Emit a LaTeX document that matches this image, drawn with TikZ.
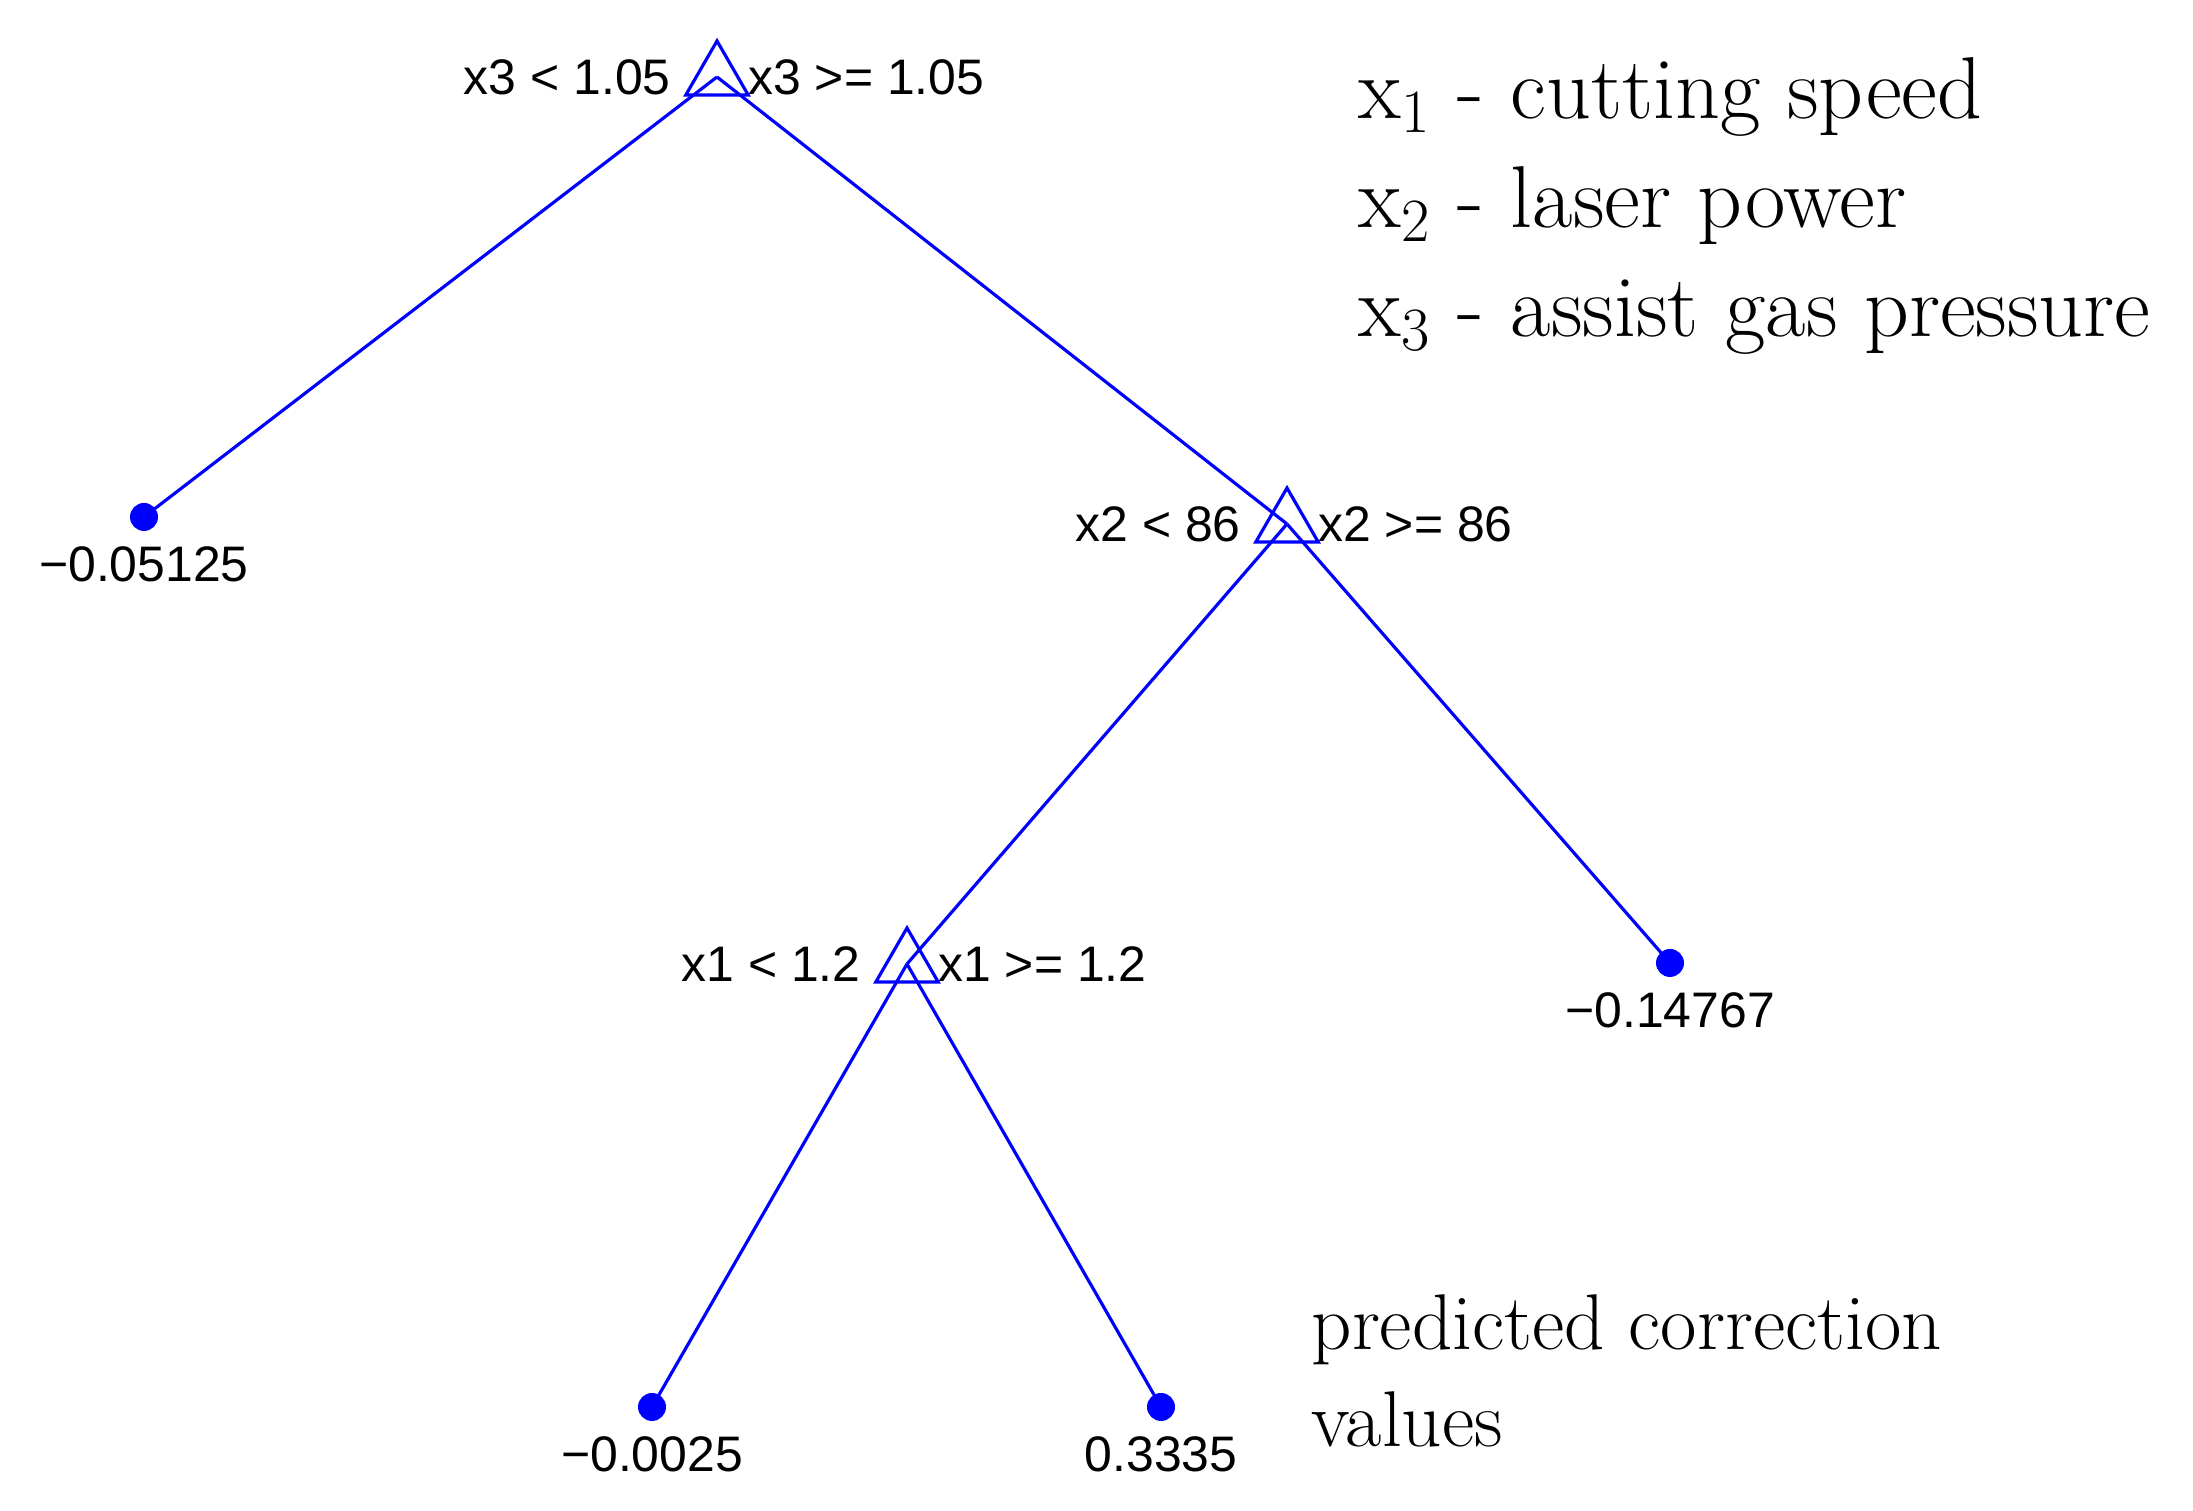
\documentclass[tikz,border=0pt]{standalone}
\usepackage{fontspec}
\usepackage{tikz}
\usetikzlibrary{shapes.geometric,positioning}
\newfontfamily\plotfont{Liberation Sans}

\begin{document}
\begin{tikzpicture}[line width=0.9pt,
    splitnode/.style 2 args={draw=blue, regular polygon, regular polygon sides=3,
        minimum size=0.72cm, inner sep=0pt, outer sep=0pt,
        label={[label distance=0.24cm]left:#1}, label={[label distance=0.09cm]right:{#2}}},
    leafnode/.style={circle, fill=blue, minimum size=0.28cm, inner sep=0pt,
        label={[label distance=0.13cm]below:#1}},
    every label/.style={inner sep=0pt, font=\plotfont\fontsize{14.2}{17}\selectfont, text=black},
    legendtext/.style={anchor=base west, inner sep=0pt, font=\fontsize{25}{30}\selectfont},
    notetext/.style={anchor=base west, inner sep=0pt, font=\fontsize{22.5}{27}\selectfont}]
    \useasboundingbox (0,0) rectangle (21.93,15.11);

    % Nodes
    \node (T1) [splitnode={x3 < 1.05}{x3 >= 1.05}] at (7.17,14.34) {};
    \node (T2) [splitnode={x2 < 86}{x2 >= 86}] at (12.87,9.87) {};
    \node (T3) [splitnode={x1 < 1.2}{x1 >= 1.2}] at (9.07,5.47) {};
    \node (L1) [leafnode={−0.05125}] at (1.44,9.94) {};
    \node (L2) [leafnode={−0.14767}] at (16.70,5.48) {};
    \node (L3) [leafnode={−0.0025}] at (6.52,1.04) {};
    \node (L4) [leafnode={0.3335}] at (11.61,1.04) {};

    % Edges
    \draw[blue] (T1.center) -- (L1.center);
    \draw[blue] (T1.center) -- (T2.center);
    \draw[blue] (T2.center) -- (T3.center);
    \draw[blue] (T2.center) -- (L2.center);
    \draw[blue] (T3.center) -- (L3.center);
    \draw[blue] (T3.center) -- (L4.center);

    % Legend
    \node (K1) [legendtext] at (13.57,13.92) {x\textsubscript{1} - cutting speed};
    \node (K2) [below=1.09cm of K1.base west, legendtext] {x\textsubscript{2} - laser power};
    \node (K3) [below=1.09cm of K2.base west, legendtext] {x\textsubscript{3} - assist gas pressure};
    \node (P1) [notetext] at (13.10,1.61) {predicted correction};
    \node (P2) [below=0.97cm of P1.base west, notetext] {values};
\end{tikzpicture}
\end{document}
